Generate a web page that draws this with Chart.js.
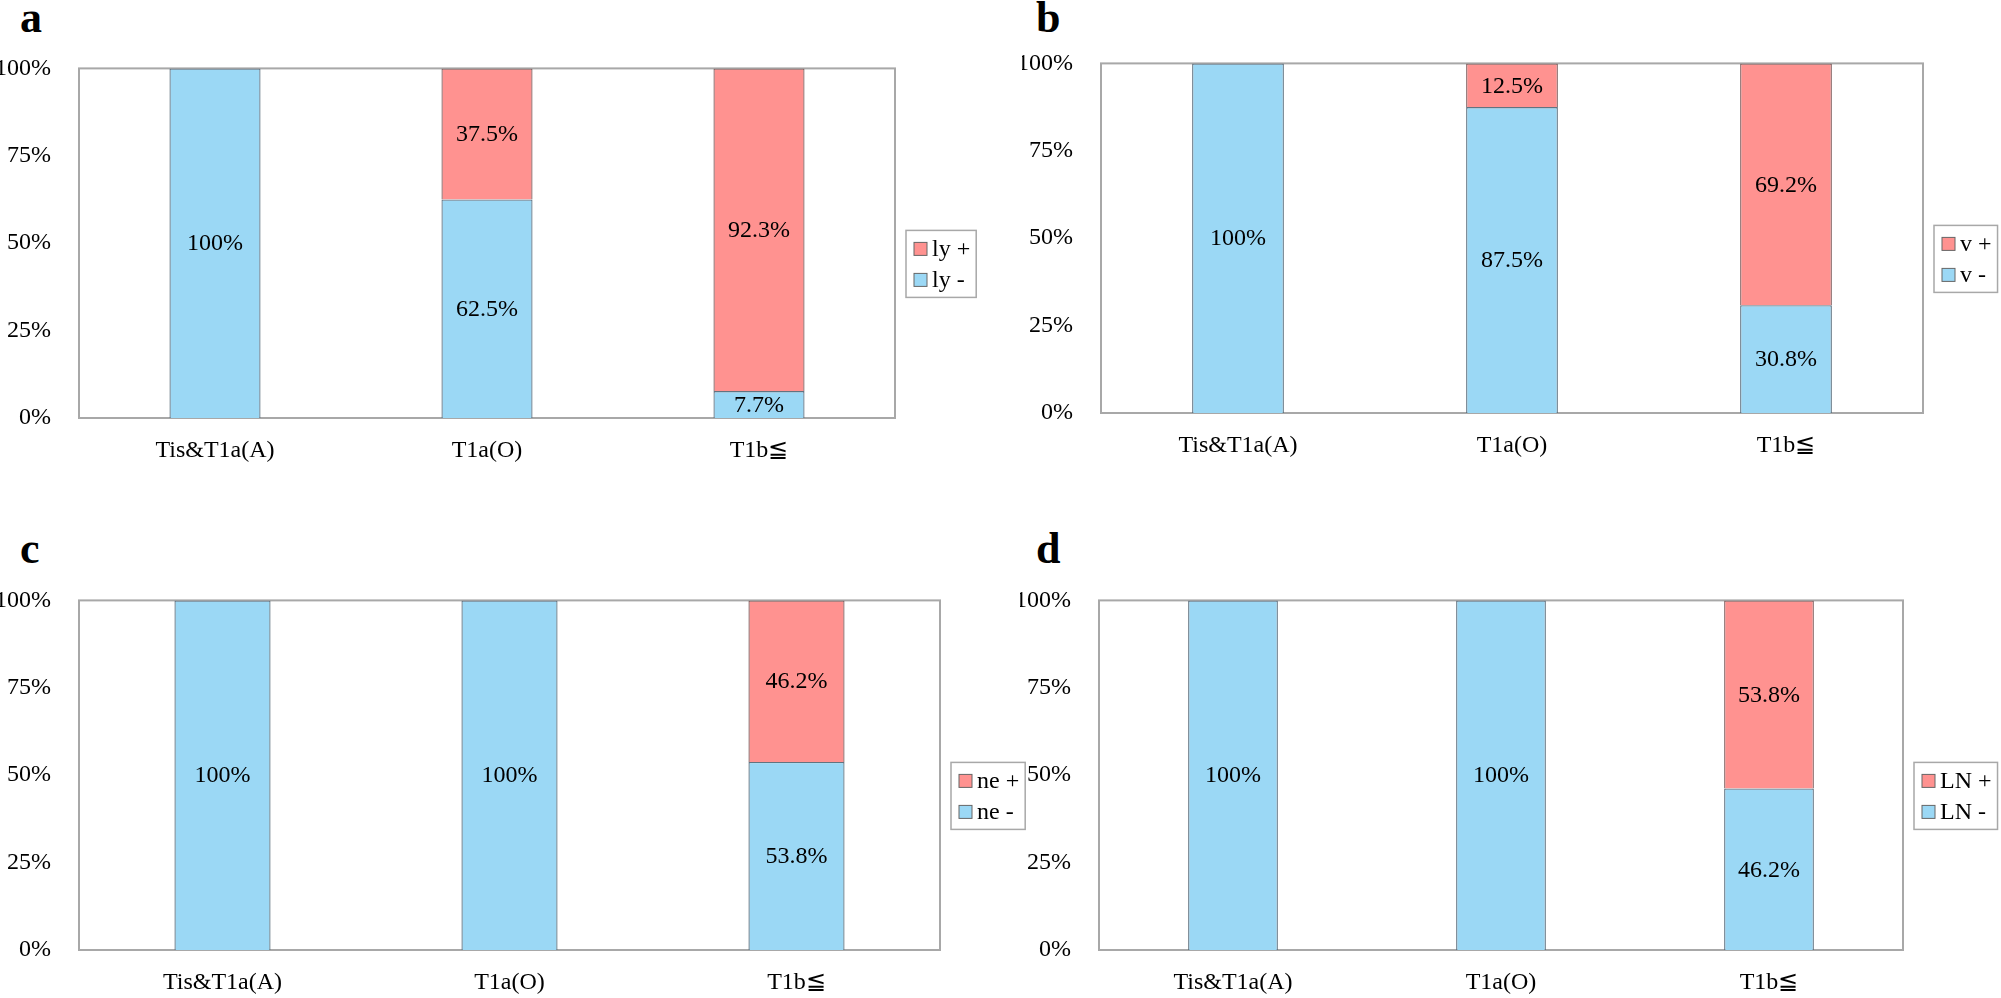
<!DOCTYPE html>
<html>
<head>
<meta charset="utf-8">
<script src="https://cdn.jsdelivr.net/npm/chart.js@4.4.1/dist/chart.umd.min.js"></script>
<style>
  body { margin: 0; background: #fff; width: 2001px; height: 998px; position: relative; overflow: hidden; }
  canvas { position: absolute; }
  .tag { position: absolute; font: bold 44px "Liberation Serif", serif; color: #000; line-height: 1; }
</style>
</head>
<body>
<div class="tag" style="left:20px;top:-4px">a</div>
<div class="tag" style="left:1036px;top:-4px">b</div>
<div class="tag" style="left:20px;top:527px">c</div>
<div class="tag" style="left:1036px;top:527px">d</div>
<canvas id="chartA"></canvas>
<canvas id="chartB"></canvas>
<canvas id="chartC"></canvas>
<canvas id="chartD"></canvas>
<script>
const categories = ['Tis&T1a(A)', 'T1a(O)', 'T1b\u2266']
const yTicks = [0, 25, 50, 75, 100]

// a: lymphatic invasion
const ly_pos = [0, 37.5, 92.3]
const ly_neg = [100, 62.5, 7.7]
// b: venous invasion
const v_pos = [0, 12.5, 69.2]
const v_neg = [100, 87.5, 30.8]
// c: perineural invasion
const ne_pos = [0, 0, 46.2]
const ne_neg = [100, 100, 53.8]
// d: lymph node metastasis
const ln_pos = [0, 0, 53.8]
const ln_neg = [100, 100, 46.2]

const blue = 'rgb(155,216,245)'
const red = 'rgb(255,146,144)'
const FONT = '"Liberation Serif", "Times New Roman", serif'

const plotBorder = {
    id: 'plotBorder',
    beforeDatasetsDraw(chart) {
        const a = chart.chartArea
        const ctx = chart.ctx
        ctx.save()
        ctx.strokeStyle = '#a8a8a8'
        ctx.lineWidth = 2
        ctx.strokeRect(a.left, a.top, a.right - a.left, a.bottom - a.top)
        ctx.restore()
    }
}

const barLabels = {
    id: 'barLabels',
    afterDatasetsDraw(chart) {
        const ctx = chart.ctx
        ctx.save()
        ctx.font = '24px ' + FONT
        ctx.fillStyle = '#000'
        ctx.textAlign = 'center'
        ctx.textBaseline = 'middle'
        chart.data.datasets.forEach((ds, i) => {
            chart.getDatasetMeta(i).data.forEach((bar, j) => {
                const v = ds.data[j]
                if (!v) return
                const txt = v === 100 ? '100%' : v.toFixed(1) + '%'
                ctx.fillText(txt, bar.x, (bar.y + bar.base) / 2 + 1)
            })
        })
        ctx.restore()
    }
}

const boxLegend = {
    id: 'boxLegend',
    afterDraw(chart, args, opts) {
        const ctx = chart.ctx
        const a = chart.chartArea
        ctx.save()
        ctx.font = '24px ' + FONT
        const items = chart.data.datasets.slice().reverse()
        const tw = Math.max(...items.map(d => ctx.measureText(d.label).width))
        const x = a.right + 11
        const y = a.top + opts.offsetY
        const w = 26 + tw + 6
        const h = 67
        ctx.strokeStyle = '#a8a8a8'
        ctx.lineWidth = 1.5
        ctx.strokeRect(x, y, w, h)
        items.forEach((d, k) => {
            const cy = y + 18 + k * 31
            ctx.fillStyle = d.backgroundColor
            ctx.fillRect(x + 8, cy - 6, 13, 13)
            ctx.strokeStyle = '#666'
            ctx.lineWidth = 1
            ctx.strokeRect(x + 8, cy - 6, 13, 13)
            ctx.fillStyle = '#000'
            ctx.textBaseline = 'middle'
            ctx.fillText(d.label, x + 26, cy + 1)
        })
        ctx.restore()
    }
}

// plot rectangles in page pixels
const makePanel = (id, plot, negLabel, posLabel, neg, pos, legendY) => {
    const cv = document.getElementById(id)
    const cLeft = plot.left - 79
    const cTop = plot.top - 30
    const cW = plot.right - cLeft + 110
    const cH = plot.bottom - cTop + 50
    cv.style.left = cLeft + 'px'
    cv.style.top = cTop + 'px'
    cv.width = cW
    cv.height = cH
    cv.style.width = cW + 'px'
    cv.style.height = cH + 'px'

    new Chart(cv, {
        type: 'bar',
        data: {
            labels: categories,
            datasets: [
                { label: negLabel, data: neg, backgroundColor: blue, borderColor: 'rgba(80,100,115,0.9)', borderWidth: 1.3 },
                { label: posLabel, data: pos, backgroundColor: red, borderColor: 'rgba(115,80,80,0.9)', borderWidth: 1.3 }
            ]
        },
        options: {
            responsive: false,
            animation: false,
            devicePixelRatio: 1,
            layout: { padding: { left: 0, top: 30, right: 110, bottom: 0 } },
            datasets: { bar: { categoryPercentage: 1, barPercentage: 0.335 } },
            plugins: {
                legend: { display: false },
                tooltip: { enabled: false },
                boxLegend: { offsetY: legendY }
            },
            scales: {
                x: {
                    stacked: true,
                    grid: { display: false },
                    border: { display: false },
                    ticks: { color: '#000', font: { family: FONT, size: 24 }, padding: 10, maxRotation: 0 },
                    afterFit: s => { s.height = 50 }
                },
                y: {
                    stacked: true,
                    min: 0,
                    max: 100,
                    afterBuildTicks: s => { s.ticks = yTicks.map(v => ({ value: v })) },
                    grid: { display: false },
                    border: { display: false },
                    ticks: { color: '#000', font: { family: FONT, size: 24 }, padding: 20, callback: v => v + '%' },
                    afterFit: s => { s.width = 79 }
                }
            }
        },
        plugins: [plotBorder, barLabels, boxLegend]
    })
}

makePanel('chartA', { left: 79, right: 895, top: 64, bottom: 418 }, 'ly -', 'ly +', ly_neg, ly_pos, 162)
makePanel('chartB', { left: 1101, right: 1923, top: 59, bottom: 413 }, 'v -', 'v +', v_neg, v_pos, 162)
makePanel('chartC', { left: 79, right: 940, top: 596, bottom: 950 }, 'ne -', 'ne +', ne_neg, ne_pos, 162)
makePanel('chartD', { left: 1099, right: 1903, top: 596, bottom: 950 }, 'LN -', 'LN +', ln_neg, ln_pos, 162)
</script>
</body>
</html>
